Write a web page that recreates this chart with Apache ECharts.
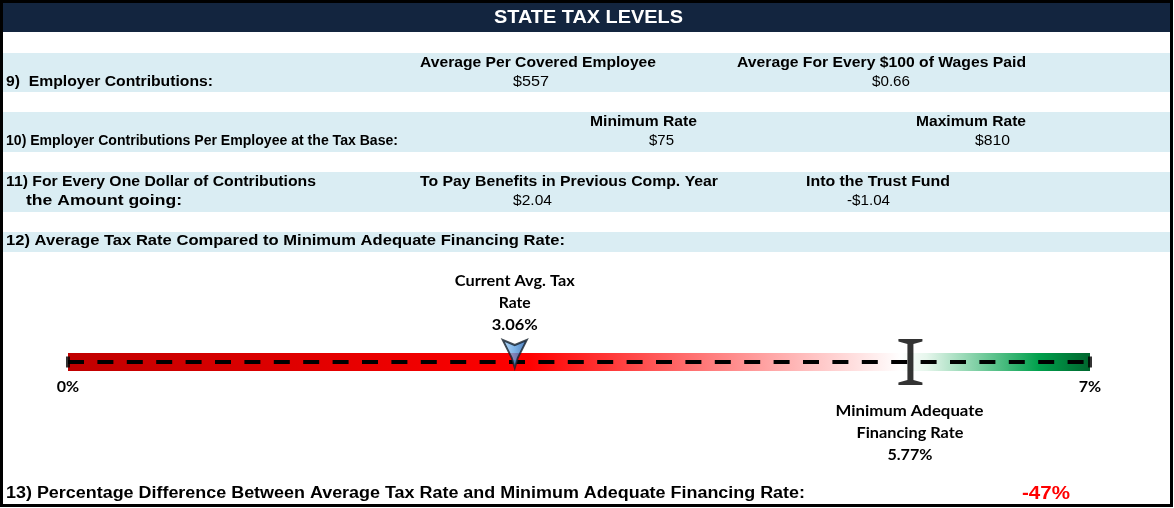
<!DOCTYPE html>
<html>
<head>
<meta charset="utf-8">
<script src="https://cdn.jsdelivr.net/npm/echarts@6/dist/echarts.min.js"></script>
<style>
  html, body { margin: 0; padding: 0; background: #fff; }
  #chart { width: 1174px; height: 508px; }
</style>
</head>
<body>
<div id="chart"></div>
<script>
// 数据
const titleText = 'STATE TAX LEVELS';
const rowLabels = [
  '9)  Employer Contributions:',
  '10) Employer Contributions Per Employee at the Tax Base:',
  '11) For Every One Dollar of Contributions',
  'the Amount going:',
  '12) Average Tax Rate Compared to Minimum Adequate Financing Rate:',
  '13) Percentage Difference Between Average Tax Rate and Minimum Adequate Financing Rate:'
];
const contribHeads = ['Average Per Covered Employee', 'Average For Every $100 of Wages Paid'];
const contribValues = ['$557', '$0.66'];
const baseHeads = ['Minimum Rate', 'Maximum Rate'];
const baseValues = ['$75', '$810'];
const dollarHeads = ['To Pay Benefits in Previous Comp. Year', 'Into the Trust Fund'];
const dollarValues = ['$2.04', '-$1.04'];
const scaleTicks = [0, 7];
const avgTaxRate = 3.06;
const minAdequateRate = 5.77;
const pctDifference = -47;

const ARIAL = '"Liberation Sans", Arial, sans-serif';
const CAL = 'Lato, "Open Sans", sans-serif';
const B15 = 'bold 15px ' + ARIAL;
const R15 = '15px ' + ARIAL;

// 用canvas量文字宽度, 横向缩放到原图的宽度
const measureCtx = document.createElement('canvas').getContext('2d');
function fit(text, x0, x1, y, font, opt) {
  opt = opt || {};
  measureCtx.font = font;
  const w = measureCtx.measureText(text).width;
  const align = opt.align || 'center';
  return {
    type: 'text', z: 10,
    x: align === 'left' ? x0 : (x0 + x1) / 2, y: y,
    scaleX: (x1 - x0) / w,
    style: {
      text: text, x: 0, y: 0, font: font,
      fill: opt.fill || '#000',
      align: align, verticalAlign: 'middle',
      textAlign: align, textVerticalAlign: 'middle'
    }
  };
}
function band(y, h) {
  return { type: 'rect', z: 1, shape: { x: 2, y: y, width: 1168, height: h }, style: { fill: '#daedf3' } };
}

let myChart = echarts.init(document.getElementById('chart'));

let graphics = [
  // 外框和标题栏
  { type: 'rect', z: 2, shape: { x: 2, y: 2, width: 1168, height: 30 }, style: { fill: '#13253f' } },
  { type: 'rect', z: 20, shape: { x: 1.5, y: 1.5, width: 1170, height: 504 }, style: { fill: null, stroke: '#000', lineWidth: 3 } },
  fit(titleText, 494, 683, 18, 'bold 18px ' + ARIAL, { fill: '#fff' }),
  band(53, 39), band(112, 40), band(172, 40), band(232, 20),
  // 第9行
  fit(rowLabels[0], 6, 213, 82, B15, { align: 'left' }),
  fit(contribHeads[0], 420, 656, 63, B15),
  fit(contribValues[0], 513, 549, 82, R15),
  fit(contribHeads[1], 737, 1026, 63, B15),
  fit(contribValues[1], 872, 910, 82, R15),
  // 第10行
  fit(rowLabels[1], 6, 398, 141, 'bold 14px ' + ARIAL, { align: 'left' }),
  fit(baseHeads[0], 590, 697, 122, B15),
  fit(baseValues[0], 649, 674, 141, R15),
  fit(baseHeads[1], 916, 1026, 122, B15),
  fit(baseValues[1], 975, 1010, 141, R15),
  // 第11行
  fit(rowLabels[2], 6, 316, 182, B15, { align: 'left' }),
  fit(rowLabels[3], 26, 182, 201, B15, { align: 'left' }),
  fit(dollarHeads[0], 420, 718, 182, B15),
  fit(dollarValues[0], 513, 552, 201, R15),
  fit(dollarHeads[1], 806, 950, 182, B15),
  fit(dollarValues[1], 847, 890, 201, R15),
  // 第12、13行
  fit(rowLabels[4], 6, 565, 241, B15, { align: 'left' }),
  fit(rowLabels[5], 6, 805, 494, 'bold 16px ' + ARIAL, { align: 'left' }),
  fit(pctDifference + '%', 1022, 1070, 494, 'bold 19px ' + ARIAL, { fill: '#ff0000' })
];

let option = {
  animation: false,
  grid: { left: 68, right: 84, top: 353, height: 18 },
  xAxis: {
    type: 'value', min: scaleTicks[0], max: scaleTicks[1], interval: scaleTicks[1] - scaleTicks[0],
    axisLine: { show: false }, axisTick: { show: false }, splitLine: { show: false },
    axisLabel: { formatter: '{value}%', color: '#000', fontFamily: CAL, fontWeight: 'bold', fontSize: 16, margin: 8 }
  },
  yAxis: { type: 'category', data: ['rate'], show: false },
  series: [{
    // 渐变色条
    type: 'bar', data: [scaleTicks[1]], barWidth: '100%', z: 1,
    itemStyle: {
      color: new echarts.graphic.LinearGradient(0, 0, 1, 0, [
        { offset: 0, color: '#c00000' },
        { offset: 0.45, color: '#ff0000' },
        { offset: 0.815, color: '#ffffff' },
        { offset: 0.84, color: '#e6f6ec' },
        { offset: 0.95, color: '#00a04c' },
        { offset: 1, color: '#00662e' }
      ])
    }
  }, {
    // 虚线
    type: 'line', z: 3, symbol: 'none',
    data: [[scaleTicks[0], 'rate'], [scaleTicks[1], 'rate']],
    lineStyle: { color: '#000', width: 4, type: [16, 13.4], cap: 'butt' }
  }, {
    // 两端竖线
    type: 'scatter', z: 4, symbol: 'rect', symbolSize: [4, 11],
    itemStyle: { color: '#000' },
    data: scaleTicks.map(v => [v, 'rate'])
  }, {
    // 最低充足融资费率
    type: 'scatter', z: 5, symbolSize: [24, 46],
    symbol: 'path://M0,0 L24,0 L24,2.5 L15,5 L15,41 L24,43.5 L24,46 L0,46 L0,43.5 L9,41 L9,5 L0,2.5 Z',
    itemStyle: { color: '#000' },
    data: [[minAdequateRate, 'rate']]
  }, {
    // 当前平均税率
    type: 'scatter', z: 6, symbolSize: [24, 28], symbolOffset: [0, -8],
    symbol: 'path://M0,0 L12,5 L24,0 L15,18 L12,28 L9,18 Z',
    itemStyle: {
      color: new echarts.graphic.LinearGradient(0, 0, 1, 0, [
        { offset: 0, color: '#a9d2f6' },
        { offset: 0.5, color: '#5c9fe0' },
        { offset: 1, color: '#1c58a8' }
      ]),
      borderColor: '#15202c', borderWidth: 2
    },
    data: [[avgTaxRate, 'rate']]
  }],
  graphic: graphics
};
myChart.setOption(option);

// 标签根据数值定位
let avgX = myChart.convertToPixel({ gridIndex: 0 }, [avgTaxRate, 0])[0];
let minX = myChart.convertToPixel({ gridIndex: 0 }, [minAdequateRate, 0])[0];
const C16 = 'bold 16px ' + CAL;
graphics.push(
  fit('Current Avg. Tax', avgX - 60, avgX + 60, 281, C16),
  fit('Rate', avgX - 16, avgX + 16, 303, C16),
  fit(avgTaxRate.toFixed(2) + '%', avgX - 23, avgX + 23, 325, C16),
  fit('Minimum Adequate', minX - 75, minX + 73, 411, C16),
  fit('Financing Rate', minX - 54, minX + 53, 433, C16),
  fit(minAdequateRate.toFixed(2) + '%', minX - 23, minX + 22, 455, C16)
);
myChart.setOption({ graphic: graphics });

window.addEventListener('resize', function () {
  myChart.resize();
});
</script>
</body>
</html>
